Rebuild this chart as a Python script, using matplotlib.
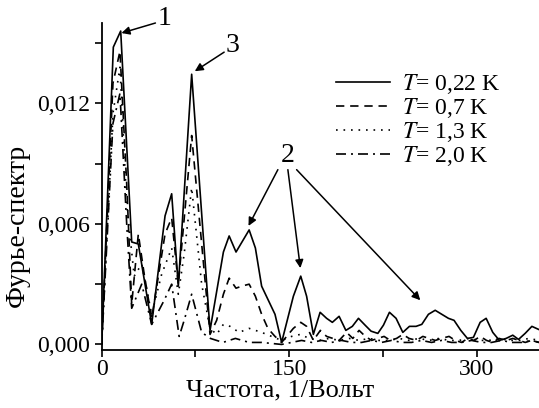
import matplotlib
matplotlib.use("Agg")
import matplotlib.pyplot as plt
from matplotlib.ticker import FixedLocator, FuncFormatter

plt.rcParams['font.family'] = ['Liberation Serif', 'DejaVu Serif']
plt.rcParams['mathtext.fontset'] = 'stix'

# T = 0,22 K
x_022 = [0, 9.3, 15.2, 24, 29.3, 40, 50.7, 56, 61.3, 72,
         86.7, 97.4, 102, 107.5, 118, 123, 128, 138.7, 144, 153.4,
         159.3, 164, 169.4, 174.8, 180, 184.6, 190, 195.4, 200.6, 205.5,
         210.8, 215.6, 221, 225.5, 230.3, 235.6, 241, 246.3, 251.6, 256.2,
         261.5, 266.9, 272.2, 277.5, 282, 287.4, 292.7, 297.5, 302.9, 307.7,
         313, 318.3, 323.7, 329, 333.6, 338.9, 344.3, 349.6]
y_022 = [0, 0.0148, 0.0156, 0.0051, 0.0050, 0.0010, 0.0064, 0.0075, 0.0029, 0.01345,
         0.0007, 0.0046, 0.0054, 0.0046, 0.0057, 0.0048, 0.0029, 0.0015, 0.0001, 0.0024,
         0.0034, 0.0024, 0.0005, 0.0016, 0.0013, 0.0011, 0.0014, 0.0007, 0.0009, 0.0013,
         0.00096, 0.00066, 0.00055, 0.00096, 0.0016, 0.0013, 0.0006, 0.0009, 0.0009, 0.0010,
         0.0015, 0.0017, 0.0015, 0.0013, 0.0012, 0.0007, 0.0003, 0.00035, 0.0011, 0.0013,
         0.0006, 0.0002, 0.0003, 0.00046, 0.00025, 0.00055, 0.0009, 0.00075]

# T = 0,7 K
x_07 = [0, 9, 14.6, 20, 24, 29.3, 34, 40, 50.7, 56,
        61.3, 72, 86.7, 92, 97.4, 102, 107.5, 112, 118, 123,
        128, 133, 138.7, 144, 153.4, 159.3, 164, 169.4, 175, 180,
        185, 190, 196, 201, 206, 211, 216, 221, 226, 231,
        236, 241, 246, 252, 257, 262, 267, 272, 278, 283,
        288, 293, 298, 303, 308, 313, 318, 324, 329, 334,
        339, 344, 350]
y_07 = [0, 0.0130, 0.0146, 0.0080, 0.0020, 0.0055, 0.0035, 0.0013, 0.0055, 0.0063,
        0.0030, 0.0104, 0.0005, 0.0012, 0.0025, 0.0033, 0.0028, 0.0029, 0.0030, 0.0024,
        0.0015, 0.0008, 0.0004, 0.0001, 0.0008, 0.0011, 0.0009, 0.0002, 0.0007, 0.0004,
        0.0003, 0.0002, 0.0006, 0.0003, 0.0007, 0.0004, 0.0002, 0.0003, 0.0004, 0.0002,
        0.0003, 0.0005, 0.0003, 0.0002, 0.0004, 0.0003, 0.0002, 0.0003, 0.0004, 0.0002,
        0.0001, 0.0003, 0.0002, 0.0004, 0.0002, 0.0001, 0.0003, 0.0002, 0.0003, 0.0002,
        0.0001, 0.0002, 0.0001]

# T = 1,3 K
x_13 = [0, 9, 14.6, 20, 26, 32, 40, 48, 56, 61.3,
        66, 72, 80, 86.7, 92, 97.4, 102.7, 110, 118, 128,
        136, 144, 152, 159, 166, 174, 182, 190, 198, 206,
        214, 222, 230, 238, 246, 254, 262, 270, 278, 286,
        294, 302, 310, 318, 326, 334, 342, 350]
y_13 = [0, 0.0115, 0.0138, 0.0070, 0.0034, 0.0040, 0.0015, 0.0035, 0.0048, 0.0025,
        0.0045, 0.0078, 0.0030, 0.0008, 0.0005, 0.0010, 0.0009, 0.0006, 0.0008, 0.0006,
        0.0004, 0.0002, 0.0004, 0.0005, 0.0003, 0.0002, 0.0003, 0.0002, 0.0003, 0.0002,
        0.0003, 0.0002, 0.0002, 0.0003, 0.0002, 0.0003, 0.0002, 0.0003, 0.0002, 0.0002,
        0.0003, 0.0002, 0.0002, 0.0003, 0.0002, 0.0002, 0.0003, 0.0002]

# T = 2,0 K
x_20 = [0, 9, 14.6, 20, 24, 32, 40, 50, 56, 62,
        66, 72, 80, 87, 97, 107, 118, 128, 144, 152,
        160, 168, 176, 184, 192, 200, 208, 216, 224, 232,
        240, 248, 256, 264, 272, 280, 288, 296, 304, 312,
        320, 328, 336, 344, 350]
y_20 = [0, 0.0110, 0.0125, 0.0060, 0.0018, 0.0030, 0.0010, 0.0022, 0.0030, 0.0004,
        0.0012, 0.0025, 0.0006, 0.0003, 0.0001, 0.0003, 0.0001, 0.0001, 0.0000, 0.0001,
        0.0002, 0.0001, 0.0002, 0.0001, 0.0002, 0.0001, 0.0001, 0.0002, 0.0001, 0.0002,
        0.0001, 0.0001, 0.0002, 0.0001, 0.0002, 0.0001, 0.0001, 0.0002, 0.0001, 0.0001,
        0.0002, 0.0001, 0.0001, 0.0002, 0.0001]

labels = ['$T$= 0,22 K', '$T$= 0,7 K', '$T$= 1,3 K', '$T$= 2,0 K']

fig = plt.figure(figsize=(5.39, 4.08), dpi=100)
ax = fig.add_axes([0.1887, 0.142, 0.8113, 0.8016])

lw = 1.2
ax.plot(x_022, y_022, color='black', lw=lw, label=labels[0])
ax.plot(x_07, y_07, color='black', lw=lw, dashes=(5, 3.5), label=labels[1])
ax.plot(x_13, y_13, color='black', lw=lw, dashes=(1, 3.5), label=labels[2])
ax.plot(x_20, y_20, color='black', lw=lw, dashes=(6, 3, 1.2, 3), label=labels[3])

ax.set_xlim(0, 350)
ax.set_ylim(-0.00028, 0.016)

ax.xaxis.set_major_locator(FixedLocator([0, 150, 300]))
ax.xaxis.set_minor_locator(FixedLocator([75, 225]))
ax.yaxis.set_major_locator(FixedLocator([0, 0.006, 0.012]))
ax.yaxis.set_minor_locator(FixedLocator([0.003, 0.009, 0.015]))
ax.yaxis.set_major_formatter(FuncFormatter(lambda v, p: f"{v:.3f}".replace('.', ',')))
ax.xaxis.set_major_formatter(FuncFormatter(lambda v, p: f"{v:.0f}"))

for s in ['top', 'right']:
    ax.spines[s].set_visible(False)
for s in ['left', 'bottom']:
    ax.spines[s].set_linewidth(1.3)
ax.tick_params(which='both', direction='out', length=5, width=1.2, labelsize=17)
ax.tick_params(axis='x', which='both', pad=1.5)

ax.set_xlabel('Частота, 1/Вольт', fontsize=19)
ax.set_ylabel('Фурье-спектр', fontsize=20)
ax.xaxis.set_label_coords(0.408, -0.09)
ax.yaxis.set_label_coords(-0.164, 0.38)

ax.legend(loc='upper left', bbox_to_anchor=(336 / 539, 1 - 72 / 408),
          bbox_transform=fig.transFigure, frameon=False, fontsize=17,
          handlelength=2.3, handletextpad=0.5, labelspacing=0.0,
          borderpad=0, borderaxespad=0)

arrow = dict(arrowstyle='-|>', color='black', lw=1.1, mutation_scale=12,
             shrinkA=0, shrinkB=0)
ax.text(50, 0.0162, '1', fontsize=20, ha='center', va='center')
ax.annotate('', xy=(15.8, 0.0155), xytext=(43, 0.0160), arrowprops=arrow)
ax.text(105, 0.0149, '3', fontsize=20, ha='center', va='center')
ax.annotate('', xy=(74.5, 0.0136), xytext=(98, 0.01455), arrowprops=arrow)
ax.text(148.5, 0.0094, '2', fontsize=20, ha='center', va='center')
ax.annotate('', xy=(117.5, 0.0059), xytext=(141, 0.0087), arrowprops=arrow)
ax.annotate('', xy=(159, 0.0038), xytext=(149, 0.0087), arrowprops=arrow)
ax.annotate('', xy=(255, 0.0022), xytext=(156, 0.0087), arrowprops=arrow)

fig.savefig('out.png', dpi=100)
